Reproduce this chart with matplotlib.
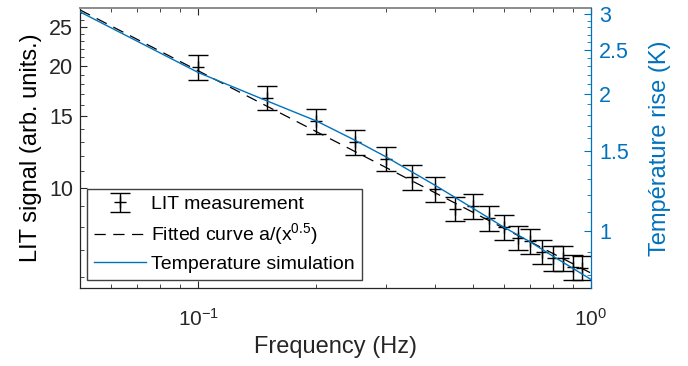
import numpy as np
import matplotlib
matplotlib.use('Agg')
import matplotlib.pyplot as plt
from matplotlib.ticker import FixedLocator, NullFormatter

plt.rcParams['font.family'] = ['Liberation Sans', 'DejaVu Sans']
plt.rcParams['mathtext.fontset'] = 'custom'
plt.rcParams['mathtext.rm'] = 'Liberation Sans'
plt.rcParams['mathtext.it'] = 'Liberation Sans:italic'

# LIT measurement (left axis)
freq = [0.10, 0.15, 0.20, 0.25, 0.30, 0.35, 0.40, 0.45, 0.50,
        0.55, 0.60, 0.65, 0.70, 0.75, 0.80, 0.85, 0.90, 0.95]
lit = [19.9, 16.7, 14.6, 12.95, 11.8, 10.64, 9.91, 8.87, 9.0,
       8.41, 7.98, 7.53, 7.37, 6.95, 6.70, 6.70, 6.37, 6.34]
lit_err = [1.4, 1.17, 1.02, 0.91, 0.83, 0.75, 0.70, 0.62, 0.63,
           0.59, 0.56, 0.53, 0.52, 0.49, 0.47, 0.47, 0.45, 0.44]

# Fitted curve a/x^0.5, end points
fit_freq = [0.05, 1.0]
fit_vals = [27.5, 6.15]

# Temperature simulation (right axis)
sim_freq = [0.05, 0.1, 0.15, 0.2, 0.25, 0.3, 0.4, 0.5, 0.6, 0.7, 0.8, 0.9, 1.0]
sim_temp = [3.03, 2.23, 1.93, 1.745, 1.585, 1.457, 1.262, 1.123, 1.02,
            0.947, 0.881, 0.828, 0.783]

dark = '#262626'
blue = '#0072BD'

fig = plt.figure(figsize=(6.88, 3.66), dpi=100)
ax = fig.add_axes([80/688, 1 - 288/366, 511/688, 280/366])
ax2 = ax.twinx()

h_meas = ax.errorbar(freq, lit, yerr=lit_err, fmt='+', color='black',
                     ecolor='black', elinewidth=1.0, capsize=7, capthick=1.0,
                     markersize=8, markeredgewidth=1.0)
h_fit, = ax.plot(fit_freq, fit_vals, color='black', lw=0.9,
                 dashes=(9, 6))
h_sim, = ax2.plot(sim_freq, sim_temp, color=blue, lw=1.0)

ax.set_xscale('log')
ax.set_yscale('log')
ax2.set_yscale('log')
ax.set_xlim(0.05, 1.0)
ax.set_ylim(5.65, 27.8)
ax2.set_ylim(0.75, 3.09)

# x ticks
ax.xaxis.set_major_locator(FixedLocator([0.1, 1.0]))
ax.set_xticklabels([r'$\mathregular{10^{-1}}$', r'$\mathregular{10^{0}}$'])
ax.xaxis.set_minor_locator(FixedLocator([0.06, 0.07, 0.08, 0.09, 0.2, 0.3,
                                          0.4, 0.5, 0.6, 0.7, 0.8, 0.9]))
ax.xaxis.set_minor_formatter(NullFormatter())

# left y ticks
ax.yaxis.set_major_locator(FixedLocator([10, 15, 20, 25]))
ax.set_yticklabels(['10', '15', '20', '25'])
ax.yaxis.set_minor_locator(FixedLocator([6, 7, 8, 9] + list(range(11, 15))
                                        + list(range(16, 20)) + list(range(21, 25))
                                        + [26, 27]))
ax.yaxis.set_minor_formatter(NullFormatter())

# right y ticks
ax2.yaxis.set_major_locator(FixedLocator([1, 1.5, 2, 2.5, 3]))
ax2.set_yticklabels(['1', '1.5', '2', '2.5', '3'])
ax2.yaxis.set_minor_locator(FixedLocator([0.8, 0.9, 1.1, 1.2, 1.3, 1.4, 1.6, 1.7,
                                          1.8, 1.9, 2.1, 2.2, 2.3, 2.4, 2.6, 2.7,
                                          2.8, 2.9]))
ax2.yaxis.set_minor_formatter(NullFormatter())

ax.tick_params(axis='x', which='both', direction='in', top=True, colors=dark,
               labelsize=15, pad=14)
ax.tick_params(axis='x', which='major', length=5, width=0.8)
ax.tick_params(axis='x', which='minor', length=3, width=0.6)
ax.tick_params(axis='y', which='both', direction='in', colors=dark,
               labelsize=15.5, pad=5)
ax.tick_params(axis='y', which='major', length=5, width=0.8)
ax.tick_params(axis='y', which='minor', length=3, width=0.6)
ax2.tick_params(axis='y', which='both', direction='in', colors=blue,
                labelsize=15.5, pad=6)
ax2.tick_params(axis='y', which='major', length=5, width=0.8)
ax2.tick_params(axis='y', which='minor', length=3, width=0.6)

for s in ['left', 'bottom']:
    ax.spines[s].set_color(dark)
    ax.spines[s].set_linewidth(0.9)
ax.spines['top'].set_color('#8c8c8c')
ax.spines['top'].set_linewidth(1.4)
ax2.spines['top'].set_visible(False)
ax2.spines['left'].set_visible(False)
ax2.spines['bottom'].set_visible(False)
ax.spines['right'].set_visible(False)
ax2.spines['right'].set_color(blue)
ax2.spines['right'].set_linewidth(0.9)

ax.set_xlabel('Frequency (Hz)', fontsize=17, color=dark, labelpad=5)
ax.set_ylabel('LIT signal (arb. units.)', fontsize=17, color='black', labelpad=5)
ax2.set_ylabel('Température rise (K)', fontsize=17, color=blue, labelpad=14)

leg = ax2.legend([h_meas, h_fit, h_sim],
                 ['LIT measurement', r'Fitted curve a/(x$^{\mathregular{0.5}}$)',
                  'Temperature simulation'],
                 loc='upper left', bbox_to_anchor=(0.0137, 0.354),
                 borderaxespad=0, fontsize=14, frameon=True, fancybox=False,
                 framealpha=1, edgecolor='#404040', handlelength=2.7,
                 handletextpad=0.25, labelspacing=0.42, borderpad=0.35)
leg.get_frame().set_linewidth(1.0)

fig.savefig('out.png', dpi=100)
